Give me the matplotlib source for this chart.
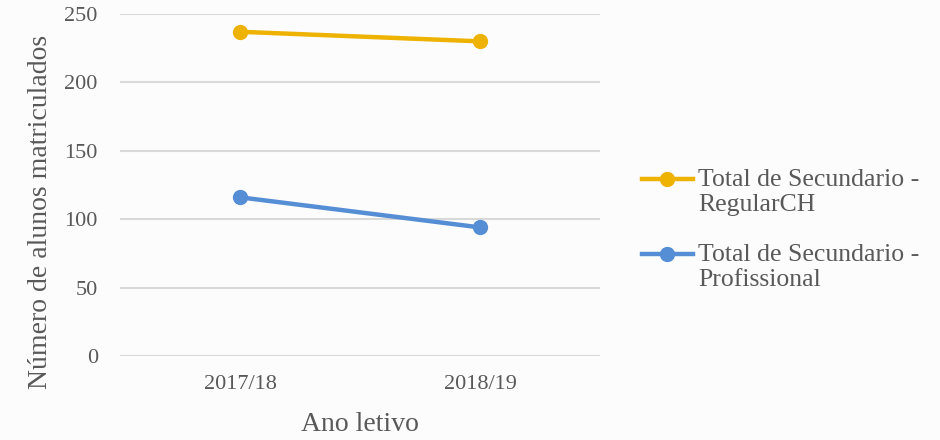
import matplotlib
matplotlib.use("Agg")
import matplotlib.pyplot as plt
from matplotlib.legend_handler import HandlerLine2D

# data
anos = ["2017/18", "2018/19"]
regular_ch = [237, 230]
profissional = [116, 94]
series_labels = ["Total de Secundario -\nRegularCH", "Total de Secundario -\nProfissional"]

plt.rcParams['font.family'] = ['Liberation Serif', 'DejaVu Serif']
cinza = "#595959"


class HandlerTopLine(HandlerLine2D):
    # put the legend line next to the first text line, not the middle
    def create_artists(self, legend, orig_handle, xdescent, ydescent,
                       width, height, fontsize, trans):
        return super().create_artists(legend, orig_handle, xdescent, ydescent - 18.5,
                                      width, height, fontsize, trans)


fig = plt.figure(figsize=(9.4, 4.4), dpi=100)
fig.patch.set_facecolor("#fcfcfc")
ax = fig.add_axes([0.1277, 0.1909, 0.5106, 0.7773])
ax.set_facecolor("none")

x = range(len(anos))
l1, = ax.plot(x, regular_ch, color="#EEB200", lw=3.2, marker="o", ms=10, label=series_labels[0])
l2, = ax.plot(x, profissional, color="#558ED5", lw=3.2, marker="o", ms=10, label=series_labels[1])

ax.set_xlim(-0.5, 1.5)
ax.set_ylim(0, 250)
ax.set_yticks(range(0, 251, 50))
ax.set_xticks(list(x))
ax.set_xticklabels(anos)
ax.grid(axis="y", color="#d9d9d9", lw=1.5)
ax.set_axisbelow(True)
for s in ax.spines.values():
    s.set_visible(False)
ax.tick_params(length=0, labelsize=16, labelcolor=cinza)
ax.tick_params(axis="y", pad=16)
ax.tick_params(axis="x", pad=14)

ax.set_ylabel("Número de alunos matriculados", fontsize=20, color=cinza)
ax.yaxis.set_label_coords(-0.14, 0.42)
ax.set_xlabel("Ano letivo", fontsize=20, color=cinza)
ax.xaxis.set_label_coords(0.5, -0.165)

h = HandlerTopLine()
leg = fig.legend(loc="upper left", bbox_to_anchor=(0.658, 0.668), frameon=False,
                 fontsize=18.5, labelcolor=cinza, handlelength=2.0, handletextpad=0.2,
                 labelspacing=1.1, handler_map={l1: h, l2: h})
for t in leg.get_texts():
    t.set_linespacing(1.15)

fig.savefig("out.png", dpi=100, facecolor=fig.get_facecolor())
